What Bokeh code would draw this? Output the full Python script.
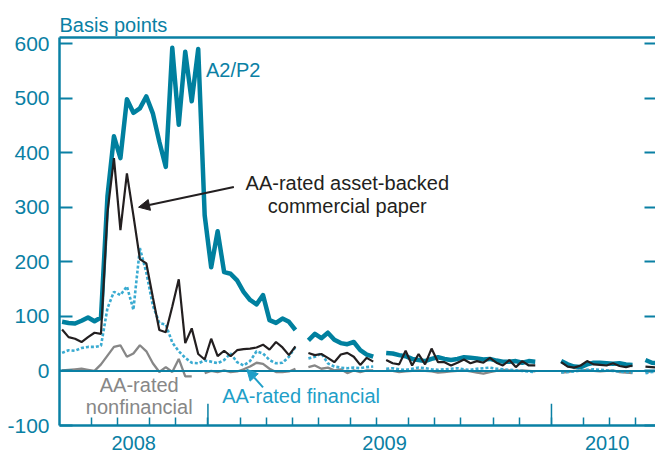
import numpy as np
from bokeh.plotting import figure
from bokeh.models import (LinearAxis, FixedTicker, Range1d, Span, Label, Arrow,
                          NormalHead, ColumnDataSource)
from bokeh.embed import file_html
from bokeh.resources import INLINE

nan = np.nan

# weekly observation index (week 0 = first week of Aug 2008)
weeks = list(range(93))

a2p2 = [90, 88, 87, 92, 98, 91, 98, 320, 430, 390, 498, 473, 481, 503, 472, 420, 374, 592, 451, 585,
        494, 590, 285, 190, 256, 181, 178, 166, 145, 130, 122, 139, 93, 88, 96, 90, 75, nan,
        56, 68, 60, 70, 57, 51, 49, 53, 38, 30, 26, nan,
        33, 32, 29, 27, 22, 20, 18, 22, 25, 22, 20, 22, 25, 24, 23, 21, 22, 19, 17, 17, 18, 15, 18, 17,
        nan, nan, nan,
        18, 12, 8, 7, 12, 15, 15, 14, 13, 14, 12, 11, nan, 20, 15, 14]

abcp = [76, 62, 59, 53, 62, 70, 68, 290, 390, 258, 362, 285, 205, 197, 135, 75, 71, 118, 168, 51,
        78, 31, 21, 59, 27, 37, 27, 38, 40, 41, 43, 48, 39, 53, 43, 29, 45, nan,
        33, 29, 31, 24, 16, 30, 33, 26, 11, 24, 17, nan,
        20, 14, 12, 37, 10, 31, 12, 41, 16, 16, 10, 15, 21, 14, 18, 15, 24, 15, 10, 20, 7, 18, 10, 10,
        nan, nan, nan,
        16, 8, 6, 10, 18, 12, 11, 10, 14, 9, 7, 10, nan, 8, 7, 6]

nonfin = [1, 2, 3, 4, 2, 0, 12, 28, 44, 47, 26, 32, 47, 36, 14, -2, 7, -2, 22, -10,
          -10, nan, -4, 0, -2, 1, -2, -1, 3, 8, 15, 13, 4, -2, -2, -1, 4, nan,
          7, 10, 4, 6, 1, 3, -4, 1, -2, 1, 1, nan,
          1, 0, -2, -1, 0, 1, 0, -1, -3, -2, -1, 0, 1, -1, -3, -5, -2, 0, 2, 1, 0, 1, 0, -1,
          nan, nan, nan,
          -3, -2, 0, 1, 2, 0, -1, 0, 1, -2, -3, -4, nan, -2, -1, 0]

fin = [33, 38, 37, 42, 44, 44, 46, 115, 145, 139, 155, 112, 225, 180, 120, 88, 85, 52, 36, 24,
       15, 14, 19, 17, 14, 20, 32, 16, 10, 18, 36, 32, 20, 14, 15, 26, 44, nan,
       23, 26, 32, 14, 8, 6, 5, 6, 5, 7, 8, nan,
       4, 5, 3, 2, 4, 6, 5, 3, 2, 3, 4, 5, 3, 2, 4, 5, 6, 4, 3, 2, 1, 0, -1, -2,
       nan, nan, nan,
       -3, -2, -1, 1, 2, 3, 2, 1, 0, -1, -2, -3, nan, -4, -2, -1]

y_ticks = [-100, 0, 100, 200, 300, 400, 500, 600]
y_tick_labels = ["-100", "0", "100", "200", "300", "400", "500", "600"]
year_boundaries = [22.5, 75.5]
month_boundaries = [4.5, 8.5, 13.5, 17.5, 27.5, 31.5, 35.5, 39.5, 44.5, 48.5, 53.5, 57.5,
                    61.5, 66.5, 70.5, 80.5, 84.5, 88.5]
year_label_pos = [11.05, 49.75, 84.1]
year_labels = ["2008", "2009", "2010"]

TEAL = "#0a80a4"
LINE_TEAL = "#00809f"
LIGHT_TEAL = "#3aabd1"
FIN_TEXT = "#1f9fc8"
GRAY = "#878787"
BLACK = "#231f20"
FONT = "Liberation Sans"
Y_MIN, Y_MAX = -100, 611
YEAR_TICK_LEN = 40  # in basis points (about 22 px)

src = ColumnDataSource(dict(w=weeks, a2p2=a2p2, abcp=abcp, nonfin=nonfin, fin=fin))

p = figure(width=655, height=456, output_backend="svg", toolbar_location=None,
           x_range=Range1d(-0.4, 91.55), y_range=Range1d(Y_MIN, Y_MAX),
           x_axis_type=None, y_axis_type=None, title="Basis points",
           min_border_left=59, min_border_right=0, min_border_top=37, min_border_bottom=31)
p.outline_line_color = None
p.background_fill_color = "white"
p.border_fill_color = "white"
p.xgrid.visible = False
p.ygrid.visible = False

p.title.text_font = FONT
p.title.text_font_size = "20px"
p.title.text_font_style = "normal"
p.title.text_color = TEAL
p.title.align = "left"
p.title.standoff = 3

# left axis
yl = LinearAxis(ticker=FixedTicker(ticks=y_ticks),
                major_label_overrides={t: s for t, s in zip(y_ticks, y_tick_labels)})
yl.axis_line_color = TEAL
yl.axis_line_width = 2.5
yl.major_tick_line_color = TEAL
yl.major_tick_line_width = 2
yl.major_tick_in = 13
yl.major_tick_out = 0
yl.minor_tick_line_color = None
yl.major_label_text_font = FONT
yl.major_label_text_font_size = "21px"
yl.major_label_text_color = TEAL
yl.major_label_standoff = 10
p.add_layout(yl, "left")

# right axis (ticks only)
yr = LinearAxis(ticker=FixedTicker(ticks=y_ticks),
                major_label_overrides={t: "" for t in y_ticks})
yr.axis_line_color = None
yr.major_tick_line_color = TEAL
yr.major_tick_line_width = 2
yr.major_tick_in = 11
yr.major_tick_out = 0
yr.minor_tick_line_color = None
yr.major_label_standoff = 0
p.add_layout(yr, "right")

# top border
xt = LinearAxis(ticker=FixedTicker(ticks=[]))
xt.axis_line_color = TEAL
xt.axis_line_width = 2.5
xt.major_tick_line_color = None
xt.minor_tick_line_color = None
xt.major_label_standoff = 0
p.add_layout(xt, "above")

# bottom axis: year labels centred on each visible year, month ticks
xb = LinearAxis(ticker=FixedTicker(ticks=year_label_pos,
                                   minor_ticks=month_boundaries + year_boundaries),
                major_label_overrides={k: v for k, v in zip(year_label_pos, year_labels)})
xb.axis_line_color = TEAL
xb.axis_line_width = 2.5
xb.major_tick_line_color = None
xb.major_tick_in = 0
xb.major_tick_out = 0
xb.minor_tick_line_color = TEAL
xb.minor_tick_line_width = 1.5
xb.minor_tick_in = 8
xb.minor_tick_out = 0
xb.major_label_text_font = FONT
xb.major_label_text_font_size = "20px"
xb.major_label_text_color = TEAL
xb.major_label_standoff = 10
p.add_layout(xb, "below")

# longer ticks at the year boundaries
p.segment(x0=year_boundaries, y0=[Y_MIN] * len(year_boundaries),
          x1=year_boundaries, y1=[Y_MIN + YEAR_TICK_LEN] * len(year_boundaries),
          line_color=TEAL, line_width=1.5)

p.add_layout(Span(location=0, dimension="width", line_color=TEAL, line_width=2))

p.line("w", "nonfin", source=src, line_color=GRAY, line_width=2.3)
p.line("w", "fin", source=src, line_color=LIGHT_TEAL, line_width=2.6, line_dash="3 2")
p.line("w", "a2p2", source=src, line_color=LINE_TEAL, line_width=4.5, line_join="round")
p.line("w", "abcp", source=src, line_color=BLACK, line_width=2.2)

def lab(x, y, text, color, align="left", size="20px"):
    p.add_layout(Label(x=x, y=y, text=text, text_color=color, text_font=FONT,
                       text_font_size=size, text_align=align, text_baseline="middle"))

lab(22.2, 551, "A2/P2", TEAL)
lab(44.0, 344, "AA-rated asset-backed", BLACK, "center")
lab(44.0, 303, "commercial paper", BLACK, "center")
lab(11.9, -26, "AA-rated", GRAY, "center")
lab(11.9, -67, "nonfinancial", GRAY, "center")
lab(24.7, -46, "AA-rated financial", FIN_TEXT)

p.add_layout(Arrow(end=NormalHead(size=11, fill_color=BLACK, line_color=BLACK),
                   x_start=26.5, y_start=337, x_end=11.8, y_end=300,
                   line_color=BLACK, line_width=2))
p.add_layout(Arrow(end=NormalHead(size=11, fill_color=FIN_TEXT, line_color=FIN_TEXT),
                   x_start=31.0, y_start=-30, x_end=28.5, y_end=3,
                   line_color=FIN_TEXT, line_width=2))

open("out.html", "w").write(file_html(p, INLINE))
